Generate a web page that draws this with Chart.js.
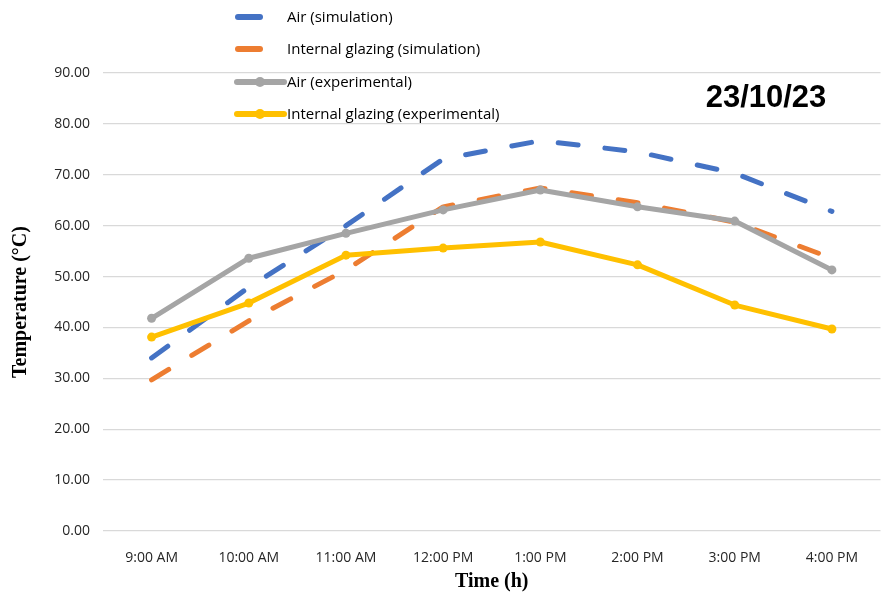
<!DOCTYPE html>
<html>
<head>
<meta charset="utf-8">
<script src="https://cdn.jsdelivr.net/npm/chart.js@4.4.0/dist/chart.umd.min.js"></script>
<style>
html,body{margin:0;padding:0;background:#fff;}
#wrap{position:relative;width:885px;height:594px;}
</style>
</head>
<body>
<div id="wrap"><canvas id="c" width="885" height="594"></canvas></div>
<script>
const categories = ["9:00 AM","10:00 AM","11:00 AM","12:00 PM","1:00 PM","2:00 PM","3:00 PM","4:00 PM"];
const airSimulation = [34.0, 47.9, 60.0, 73.1, 76.7, 74.5, 70.3, 62.8];
const glazingSimulation = [29.7, 41.3, 51.3, 63.7, 67.4, 64.5, 60.7, 53.6];
const airExperimental = [41.8, 53.6, 58.5, 63.1, 67.0, 63.7, 60.9, 51.3];
const glazingExperimental = [38.1, 44.8, 54.2, 55.6, 56.8, 52.3, 44.4, 39.7];
const seriesLabels = ["Air (simulation)","Internal glazing (simulation)","Air (experimental)","Internal glazing (experimental)"];
const dateLabel = "23/10/23";
const yTitle = "Temperature (°C)";
const xTitle = "Time (h)";

const colors = ["#4472C4","#ED7D31","#A5A5A5","#FFC000"];
const tickFont = "'Open Sans', sans-serif";

const legendPlugin = {
  id: 'customLegend',
  afterDraw(chart) {
    const ctx = chart.ctx;
    const ys = [17, 49, 82, 114];
    ctx.save();
    chart.data.datasets.forEach((ds, i) => {
      const y = ys[i];
      ctx.strokeStyle = ds.borderColor;
      ctx.lineWidth = 6;
      ctx.lineCap = 'round';
      ctx.setLineDash([]);
      ctx.beginPath();
      if (ds.pointRadius > 0) {
        ctx.moveTo(237, y); ctx.lineTo(284, y);
        ctx.stroke();
        ctx.fillStyle = ds.borderColor;
        ctx.beginPath(); ctx.arc(260, y, 5, 0, Math.PI*2); ctx.fill();
      } else {
        ctx.moveTo(238, y); ctx.lineTo(260, y);
        ctx.stroke();
      }
      ctx.fillStyle = '#000';
      ctx.font = "15px 'Open Sans', sans-serif";
      ctx.textBaseline = 'middle';
      ctx.textAlign = 'left';
      ctx.fillText(ds.label, 287, y + 1);
    });
    ctx.font = "bold 31px 'Liberation Sans', Arial, sans-serif";
    ctx.fillStyle = '#000';
    ctx.textAlign = 'center';
    ctx.textBaseline = 'alphabetic';
    ctx.fillText(dateLabel, 766, 107);
    ctx.restore();
  }
};

function mk(label, data, color, dashed, order) {
  return {
    label: label,
    data: data,
    borderColor: color,
    backgroundColor: color,
    borderWidth: 5,
    borderDash: dashed ? [20, 27] : [],
    borderCapStyle: 'round',
    borderJoinStyle: 'round',
    pointRadius: dashed ? 0 : 4.5,
    pointHoverRadius: dashed ? 0 : 4.5,
    pointBorderWidth: 0,
    pointBackgroundColor: color,
    tension: 0,
    fill: false,
    order: order
  };
}

new Chart(document.getElementById('c'), {
  type: 'line',
  data: {
    labels: categories,
    datasets: [
      mk(seriesLabels[0], airSimulation, colors[0], true, 4),
      mk(seriesLabels[1], glazingSimulation, colors[1], true, 3),
      mk(seriesLabels[2], airExperimental, colors[2], false, 2),
      mk(seriesLabels[3], glazingExperimental, colors[3], false, 1)
    ]
  },
  options: {
    responsive: false,
    animation: false,
    devicePixelRatio: 1,
    layout: { padding: { top: 73, right: 1, left: 0, bottom: 0 } },
    plugins: {
      legend: { display: false },
      tooltip: { enabled: false },
      title: { display: false }
    },
    scales: {
      x: {
        offset: true,
        grid: { display: false },
        border: { display: false },
        ticks: { color: '#262626', font: { family: tickFont, size: 14 }, padding: 11, maxRotation: 0, autoSkip: false },
        title: { display: true, text: xTitle, color: '#000', font: { family: "'Liberation Serif', 'Times New Roman', serif", size: 20, weight: 'bold' }, padding: { top: 4, bottom: 0 } },
        afterFit(s) { s.height = 63; }
      },
      y: {
        min: 0, max: 90,
        grid: { color: '#d9d9d9', lineWidth: 1.3, drawTicks: false },
        border: { display: false },
        ticks: { stepSize: 10, color: '#262626', font: { family: tickFont, size: 14 }, padding: 13, callback: v => v.toFixed(2) },
        title: { display: true, text: yTitle, color: '#000', font: { family: "'Liberation Serif', 'Times New Roman', serif", size: 20, weight: 'bold' }, padding: { top: 9, bottom: 0 } },
        afterFit(s) { s.width = 103; }
      }
    }
  },
  plugins: [legendPlugin]
});
</script>
</body>
</html>
